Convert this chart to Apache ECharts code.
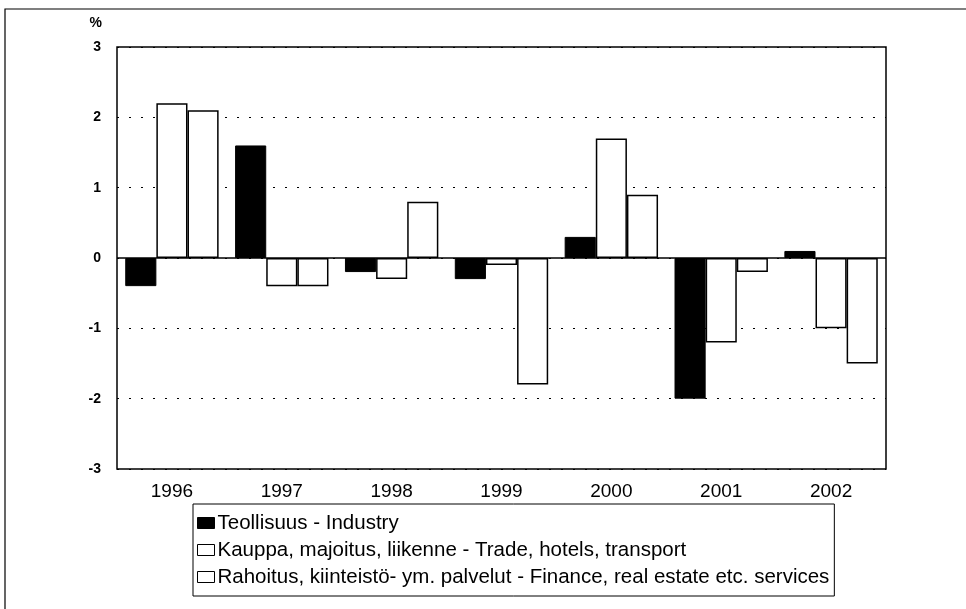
<!DOCTYPE html>
<html><head><meta charset="utf-8">
<script src="https://cdn.jsdelivr.net/npm/echarts@6/dist/echarts.min.js"></script>
<style>html,body{margin:0;padding:0;background:#fff}#c{width:966px;height:609px}</style>
</head><body><div id="c"></div>
<script>
const years = ['1996','1997','1998','1999','2000','2001','2002'];
const industry = [-0.4, 1.6, -0.2, -0.3, 0.3, -2.0, 0.1];
const trade = [2.2, -0.4, -0.3, -0.1, 1.7, -1.2, -1.0];
const finance = [2.1, -0.4, 0.8, -1.8, 0.9, -0.2, -1.5];
const names = ['Teollisuus - Industry',
  'Kauppa, majoitus, liikenne - Trade, hotels, transport',
  'Rahoitus, kiinteistö- ym. palvelut - Finance, real estate etc. services'];
const yTicks = [-3, -2, -1, 0, 1, 2, 3];

const chart = echarts.init(document.getElementById('c'), null, {renderer: 'canvas'});
const font = 'Liberation Sans, Arial, sans-serif';
chart.setOption({
  animation: false,
  backgroundColor: '#fff',
  textStyle: {fontFamily: font},
  graphic: [{type: 'rect', shape: {x: 5, y: 9, width: 1000, height: 700},
    style: {fill: 'none', stroke: '#000', lineWidth: 1.2}, z: -1}],
  grid: {left: 117, right: 80, top: 47, bottom: 140, show: true, borderColor: '#000', borderWidth: 1.5, backgroundColor: 'transparent'},
  legend: {
    orient: 'vertical', left: 193, top: 504,
    data: names,
    icon: 'rect', itemWidth: 17, itemHeight: 11, itemGap: 3,
    borderColor: '#000', borderWidth: 1, borderRadius: 0,
    padding: [7, 5, 7, 4],
    textStyle: {fontFamily: font, fontSize: 20.5, lineHeight: 24, color: '#000', padding: [0, 0, 0, -2]},
    itemStyle: {borderColor: '#000', borderWidth: 1}
  },
  xAxis: {
    type: 'category', data: years,
    axisLine: {show: false, onZero: false},
    axisTick: {show: false},
    axisLabel: {fontFamily: font, fontSize: 19, color: '#000', margin: 13},
    splitLine: {show: false}
  },
  yAxis: {
    type: 'value', min: -3, max: 3, interval: 1,
    name: '%', nameLocation: 'end', nameGap: 17,
    nameTextStyle: {fontFamily: font, fontSize: 14, fontWeight: 'bold', color: '#000', align: 'right', padding: [0, 15, 0, 0]},
    axisLine: {show: false}, axisTick: {show: false},
    axisLabel: {fontFamily: font, fontSize: 14, fontWeight: 'bold', color: '#000', margin: 16,
      formatter: v => yTicks.includes(v) ? String(v) : ''},
    splitLine: {show: true, lineStyle: {color: '#000', type: [2, 10], width: 1}}
  },
  series: [
    {name: names[0], type: 'bar', data: industry, barGap: '0%', barCategoryGap: '15%',
      itemStyle: {color: '#000', borderColor: '#000', borderWidth: 1},
      markLine: {silent: true, symbol: 'none', label: {show: false},
        lineStyle: {color: '#000', type: 'solid', width: 1.5}, data: [{yAxis: 0}]}},
    {name: names[1], type: 'bar', data: trade, barGap: '0%', barCategoryGap: '15%',
      itemStyle: {color: '#fff', borderColor: '#000', borderWidth: 1.5}},
    {name: names[2], type: 'bar', data: finance, barGap: '0%', barCategoryGap: '15%',
      itemStyle: {color: '#fff', borderColor: '#000', borderWidth: 1.5}}
  ]
});
</script></body></html>
